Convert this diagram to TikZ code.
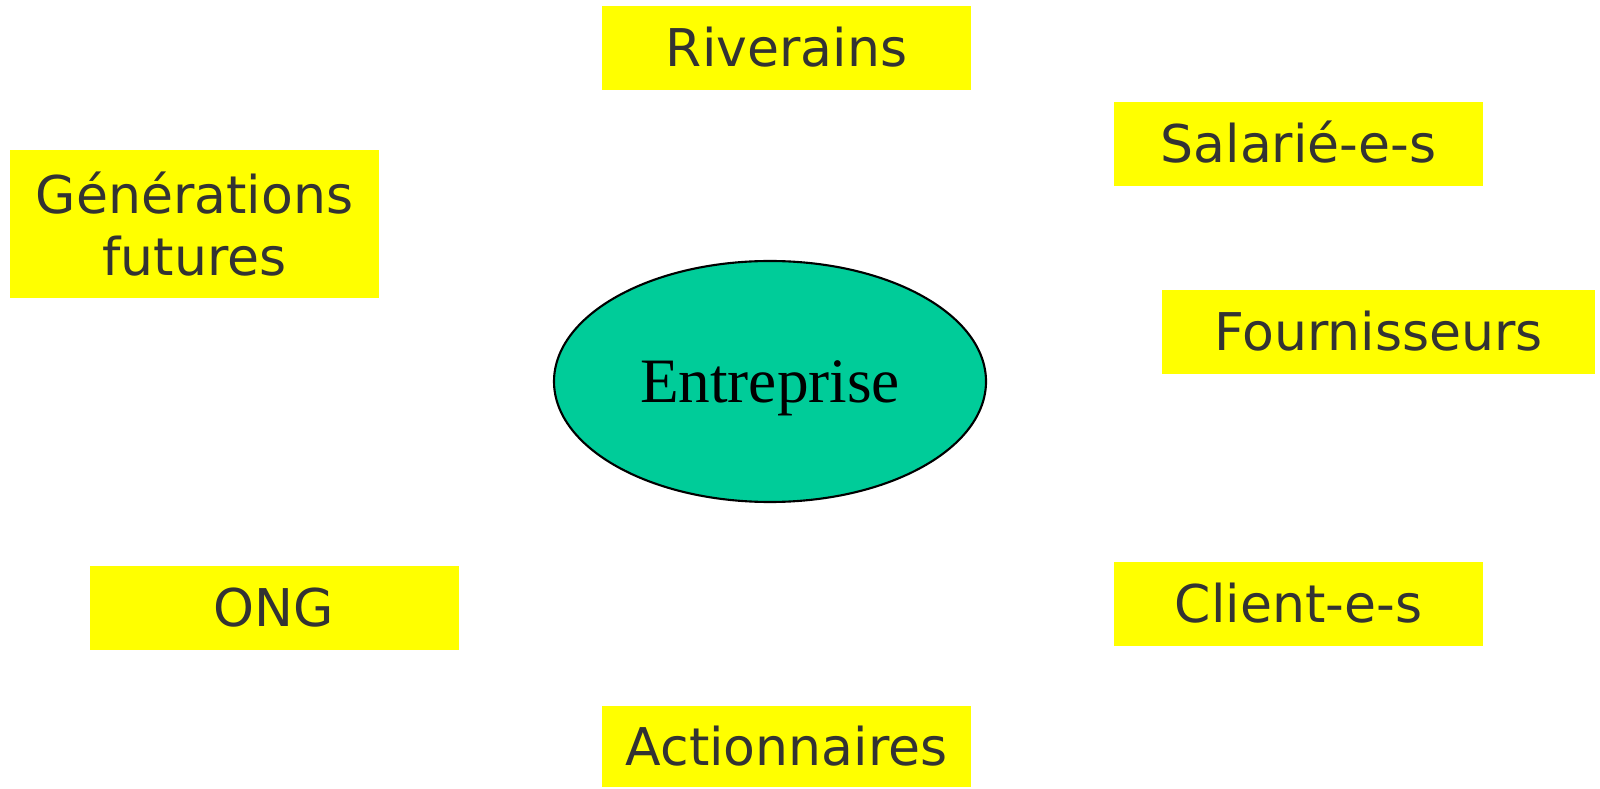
\documentclass[tikz,border=0pt]{standalone}
\usepackage{fontspec}
\usepackage{tikz}
\usetikzlibrary{shapes.geometric}
\newfontfamily\boxfont{DejaVu Sans}
\newfontfamily\ellfont{Liberation Serif}
\definecolor{boxyellow}{HTML}{FFFF00}
\definecolor{boxtext}{HTML}{333333}
\definecolor{entgreen}{HTML}{00CC99}

\begin{document}
\begin{tikzpicture}[
    partie/.style={rectangle, fill=boxyellow, inner sep=0pt,
      minimum width=3.69cm, minimum height=0.84cm,
      text=boxtext, font=\boxfont\fontsize{14.8}{17.6}\selectfont,
      text height=10.8pt, text depth=0pt},
    partiedeux/.style={partie, minimum height=1.48cm, align=center,
      text height=, text depth=},
    centre/.style={ellipse, draw=black, line width=0.6pt, fill=entgreen,
      minimum width=4.32cm, minimum height=2.41cm, inner sep=0pt,
      font=\ellfont\fontsize{18}{20}\selectfont,
      text height=12pt, text depth=0pt}
  ]
  \useasboundingbox (0,0) rectangle (16,7.88);
  \node[centre] (entreprise) at (7.70,4.065) {Entreprise};
  \node[partie] (riverains) at (7.865,7.40) {Riverains};
  \node[partie] (salaries) at (12.985,6.44) {Salarié-e-s};
  \node[partiedeux] (generations) at (1.945,5.64) {Générations\\futures};
  \node[partie, minimum width=4.33cm] (fournisseurs) at (13.785,4.56) {Fournisseurs};
  \node[partie] (ong) at (2.74,1.80) {ONG};
  \node[partie] (clients) at (12.985,1.84) {Client-e-s};
  \node[partie, minimum height=0.81cm] (actionnaires) at (7.865,0.415) {Actionnaires};
\end{tikzpicture}
\end{document}
